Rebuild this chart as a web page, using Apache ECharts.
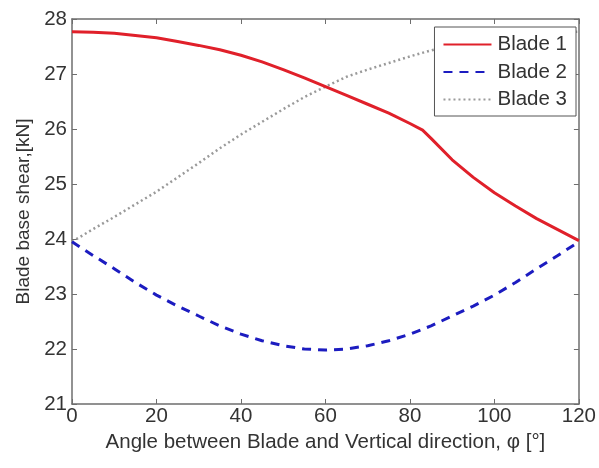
<!DOCTYPE html>
<html><head><meta charset="utf-8">
<script src="https://cdn.jsdelivr.net/npm/echarts@6/dist/echarts.min.js"></script>
<style>html,body{margin:0;padding:0;background:#fff}#c{width:599px;height:468px}</style>
</head><body><div id="c"></div>
<script>
var angles = [0,5,10,15,20,25,30,35,40,45,50,55,60,65,70,75,80,85,90,95,100,105,110,115,120];
var angles1 = [0,5,10,15,20,25,30,35,40,45,50,55,60,65,70,75,80,83,85,90,95,100,105,110,115,120];
var blade1 = [27.77,27.76,27.74,27.70,27.66,27.59,27.52,27.44,27.34,27.22,27.08,26.93,26.77,26.61,26.45,26.29,26.10,25.98,25.83,25.44,25.12,24.84,24.60,24.37,24.17,23.97];
var blade2 = [23.95,23.70,23.46,23.21,22.98,22.78,22.60,22.42,22.27,22.15,22.06,22.00,21.98,22.00,22.06,22.15,22.27,22.42,22.60,22.78,22.98,23.21,23.46,23.70,23.95];
var blade3 = [23.95,24.18,24.40,24.63,24.86,25.12,25.38,25.65,25.90,26.13,26.36,26.58,26.77,26.95,27.08,27.20,27.32,27.43,27.52,27.60,27.66,27.71,27.74,27.76,27.77];
var seriesNames = ['Blade 1','Blade 2','Blade 3'];
var xTitle = 'Angle between Blade and Vertical direction, \u03c6 [\u00b0]';
var yTitle = 'Blade base shear,[kN]';

function pairs(xs, ys){ return xs.map(function(a,i){ return [a, ys[i]]; }); }
var font = 'Liberation Sans, Arial, sans-serif';
var txt = '#333';
var axisCol = '#6e6e6e';
var chart = echarts.init(document.getElementById('c'));
function xAx(pos, show){
  return {type:'value', min:0, max:120, interval:20, position:pos,
    name: show ? xTitle : '', nameLocation:'middle', nameGap:26,
    nameTextStyle:{color:txt, fontSize:20.5, fontFamily:font},
    axisLine:{show:true, onZero:false, lineStyle:{color:axisCol, width:1.5}},
    axisTick:{show:true, inside:true, length:5, lineStyle:{color:axisCol}},
    axisLabel:{show:show, color:txt, fontSize:20.5, fontFamily:font, margin:2},
    splitLine:{show:false}};
}
function yAx(pos, show){
  return {type:'value', min:21, max:28, interval:1, position:pos,
    name: show ? yTitle : '', nameLocation:'middle', nameGap:39,
    nameTextStyle:{color:txt, fontSize:19, fontFamily:font},
    axisLine:{show:true, onZero:false, lineStyle:{color:axisCol, width:1.5}},
    axisTick:{show:true, inside:true, length:5, lineStyle:{color:axisCol}},
    axisLabel:{show:show, color:txt, fontSize:20.5, fontFamily:font, margin:5},
    splitLine:{show:false}};
}
chart.setOption({
  animation:false,
  backgroundColor:'#fff',
  grid:{left:72, right:19, top:19, bottom:64},
  xAxis:[xAx('bottom', true), xAx('top', false)],
  yAxis:[yAx('left', true), yAx('right', false)],
  legend:{orient:'vertical', right:23, top:27, itemWidth:48, itemHeight:14, itemGap:6.5,
    padding:[7,9,6,8], borderColor:'#555', borderWidth:1, backgroundColor:'#fff',
    itemStyle:{opacity:0},
    textStyle:{color:txt, fontSize:20.5, fontFamily:font, padding:[0,0,0,1]},
    data:seriesNames},
  series:[
    {name:seriesNames[0], type:'line', data:pairs(angles1, blade1), showSymbol:false, symbol:'none', smooth:false,
     lineStyle:{color:'#e0202a', width:3}, itemStyle:{color:'#e0202a'}, z:3},
    {name:seriesNames[1], type:'line', data:pairs(angles, blade2), showSymbol:false, symbol:'none', smooth:false,
     lineStyle:{color:'#1c1cc0', width:3, type:[9,7]}, itemStyle:{color:'#1c1cc0'}, z:2},
    {name:seriesNames[2], type:'line', data:pairs(angles, blade3), showSymbol:false, symbol:'none', smooth:false,
     lineStyle:{color:'#9a9a9a', width:2.5, type:[2,3]}, itemStyle:{color:'#9a9a9a'}, z:1}
  ]
});
</script></body></html>
